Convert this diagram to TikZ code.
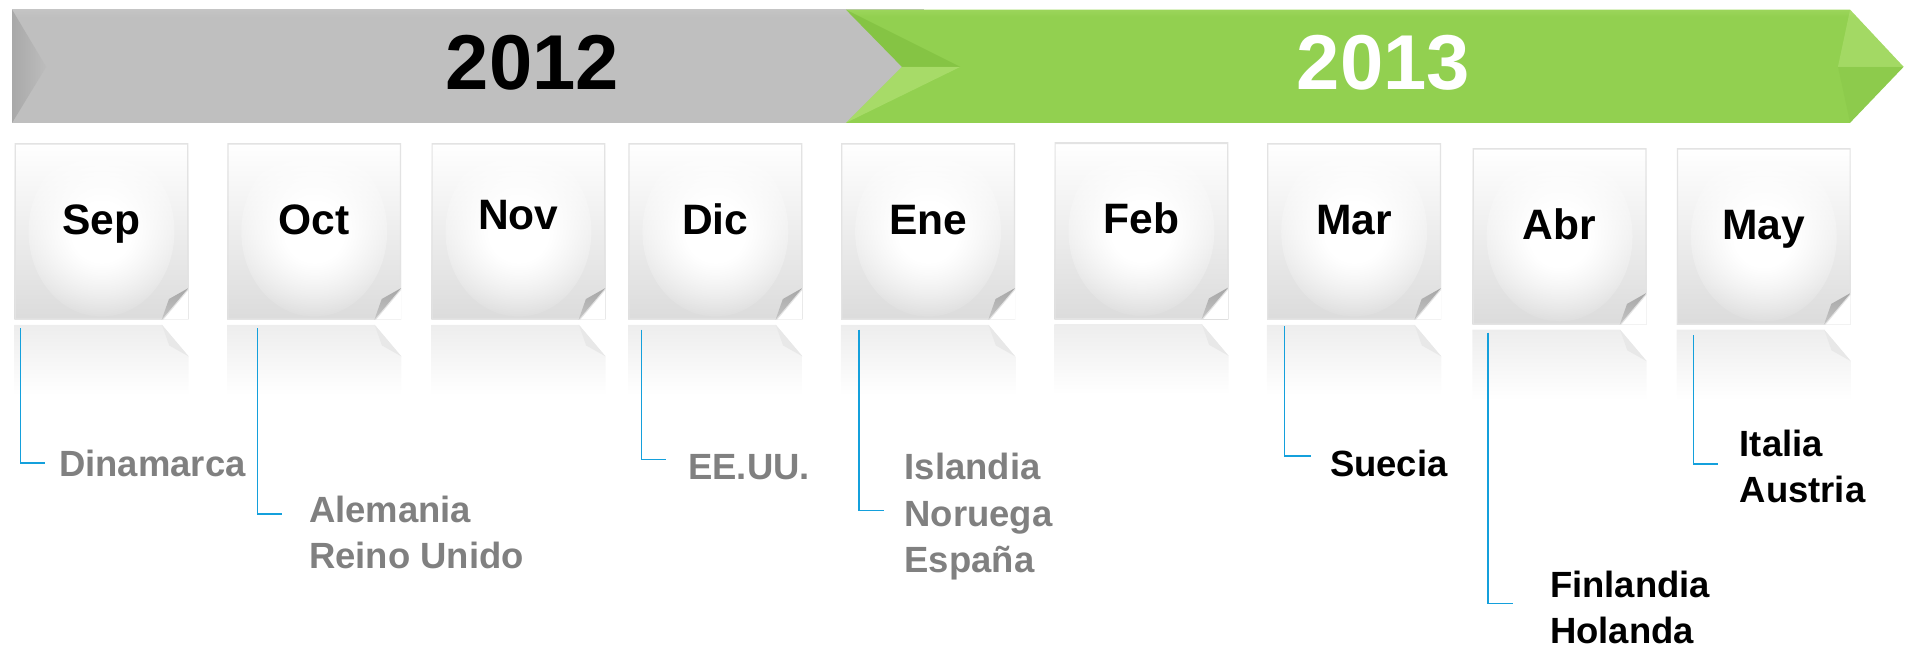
\documentclass[tikz,border=0pt]{standalone}
\usepackage{fontspec}
\setmainfont{Liberation Sans}
\usetikzlibrary{positioning,fadings}

\definecolor{linkblue}{RGB}{20,160,220}
\definecolor{grn}{RGB}{146,208,80}
\definecolor{grnlight}{RGB}{216,246,160}
\definecolor{grndark}{RGB}{110,175,48}

\pgfdeclareverticalshading{graybar}{100bp}{color(0bp)=(gray!50); color(72bp)=(gray!50); color(94bp)=(gray!22); color(100bp)=(gray!14)}
\pgfdeclareverticalshading{greenbar}{100bp}{color(0bp)=(grn); color(72bp)=(grn); color(94bp)=(grnlight); color(100bp)=(grnlight)}
\pgfdeclareradialshading{glowshade}{\pgfpointorigin}{color(0bp)=(pgftransparent!0); color(9bp)=(pgftransparent!0); color(25bp)=(pgftransparent!100); color(50bp)=(pgftransparent!100)}
\pgfdeclarefading{glow}{\pgfuseshading{glowshade}}

\tikzset{
  year/.style={font=\fontsize{64}{64}\selectfont\bfseries, inner sep=0pt},
  monthbox/.style={minimum width=143pt, minimum height=145pt, inner sep=0pt,
    top color=white, bottom color=gray!28,
    font=\fontsize{35}{35}\selectfont\bfseries, text height=26pt, text depth=21pt,
    path picture={
      \fill[white, path fading=glow] (path picture bounding box.center) ellipse [x radius=60pt, y radius=70pt];
      \fill[white] ([yshift=26pt]path picture bounding box.south east) -- (path picture bounding box.south east)
        -- ([xshift=-22pt]path picture bounding box.south east) -- cycle;
      \draw[gray!22, line width=2pt] (path picture bounding box.north west) -- (path picture bounding box.north east)
        -- ([yshift=26pt]path picture bounding box.south east) -- ([xshift=-22pt]path picture bounding box.south east)
        -- (path picture bounding box.south west) -- cycle;
      \shade[top color=gray!70, bottom color=gray!45] ([yshift=26pt]path picture bounding box.south east)
        -- ([xshift=-22pt]path picture bounding box.south east)
        -- ([xshift=-16pt,yshift=17pt]path picture bounding box.south east) -- cycle;
    }},
  country/.style={font=\fontsize{30}{38}\selectfont\bfseries, text=gray, align=left, inner sep=0pt, anchor=west},
  link/.style={draw=linkblue, line width=1.3pt}
}

\begin{document}
\begin{tikzpicture}[x=1pt,y=-1pt]
  \useasboundingbox (0,0) rectangle (1568,534);
  % year banner
  \shade[shading=graybar] (10,8) rectangle (760,101);
  \shade[left color=gray!68, right color=gray!52] (10,8) -- (38,55) -- (10,101) -- cycle;
  \shade[shading=greenbar] (696,8) -- (1522,8) -- (1566,55) -- (1522,101) -- (696,101) -- (742,55) -- cycle;
  \fill[grndark, opacity=.35] (696,8) -- (742,55) -- (790,55) -- cycle;
  \fill[grnlight, opacity=.3] (696,101) -- (742,55) -- (790,55) -- cycle;
  \fill[grnlight, opacity=.25] (1522,8) -- (1566,55) -- (1512,55) -- cycle;
  \fill[grndark, opacity=.12] (1522,101) -- (1566,55) -- (1512,55) -- cycle;
  \node[year] (y2012) at (438,52) {2012};
  \node[year, text=white] (y2013) at (1138,52) {2013};

  % months
  \node[monthbox] (sep) at (83.5,190.5) {Sep};
  \node[monthbox] (oct) at (258.5,190.5) {Oct};
  \node[monthbox, text depth=29pt] (nov) at (426.5,190.5) {Nov};
  \node[monthbox] (dic) at (588.5,190.5) {Dic};
  \node[monthbox] (ene) at (763.5,190.5) {Ene};
  \node[monthbox] (feb) at (939,190) {Feb};
  \node[monthbox] (mar) at (1114,190.5) {Mar};
  \node[monthbox] (abr) at (1283,194.5) {Abr};
  \node[monthbox] (may) at (1451,194.5) {May};

  % reflections
  \foreach \m in {sep,oct,nov,dic,ene,feb,mar,abr,may} {
    \shade[top color=gray!14, bottom color=white]
      ([yshift=-4pt]\m.south west) -- ([xshift=-22pt,yshift=-4pt]\m.south east)
      -- ([yshift=-30pt]\m.south east) -- ([yshift=-62pt]\m.south east)
      -- ([yshift=-62pt]\m.south west) -- cycle;
    \fill[gray!18] ([xshift=-22pt,yshift=-4pt]\m.south east) -- ([yshift=-30pt]\m.south east)
      -- ([xshift=-16pt,yshift=-21pt]\m.south east) -- cycle;
  }

  % countries
  \node[country] (dk) at (48.5,381) {Dinamarca};
  \node[country] (de) at (254,438) {Alemania\\Reino Unido};
  \node[country] (us) at (566,384) {EE.UU.};
  \node[country] (is) at (744,425) {Islandia\\Noruega\\España};
  \node[country, text=black] (se) at (1094,381.5) {Suecia};
  \node[country, text=black] (fi) at (1275,499.5) {Finlandia\\Holanda};
  \node[country, text=black] (it) at (1431,384) {Italia\\Austria};

  % links
  \draw[link] ([xshift=5pt,yshift=-7pt]sep.south west) |- ([xshift=-11.5pt]dk.west);
  \draw[link] ([xshift=25pt,yshift=-7pt]oct.south west) |- ([xshift=-22pt,yshift=15pt]de.west);
  \draw[link] ([xshift=11pt,yshift=-8pt]dic.south west) |- ([xshift=-18pt,yshift=6pt]us.west);
  \draw[link] ([xshift=15pt,yshift=-8pt]ene.south west) |- ([xshift=-17pt,yshift=5pt]is.west);
  \draw[link] ([xshift=14.5pt,yshift=-5pt]mar.south west) |- ([xshift=-15.5pt,yshift=6.5pt]se.west);
  \draw[link] ([xshift=13pt,yshift=-6.5pt]abr.south west) |- ([xshift=-30pt,yshift=3pt]fi.west);
  \draw[link] ([xshift=14pt,yshift=-8.5pt]may.south west) |- ([xshift=-18pt,yshift=2.5pt]it.west);
\end{tikzpicture}
\end{document}
